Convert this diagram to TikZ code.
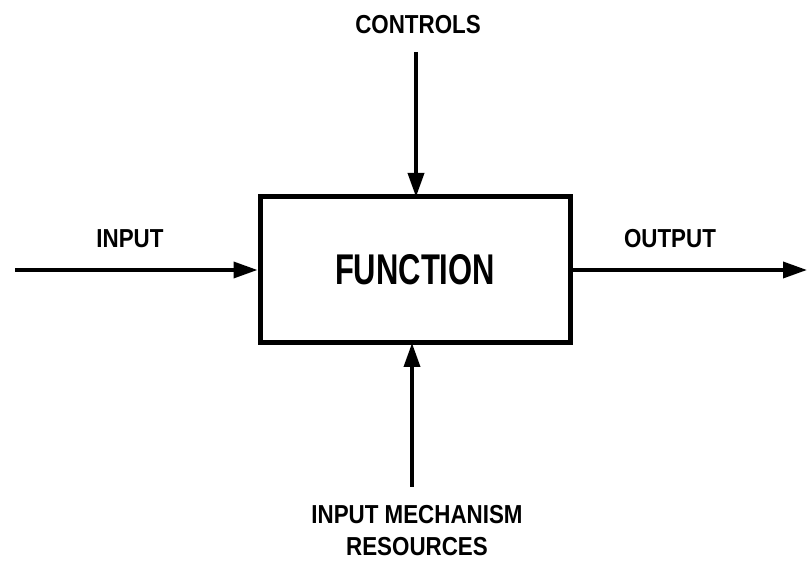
\documentclass[tikz,border=0pt]{standalone}
\usepackage{fontspec}
\setmainfont{Liberation Sans}
\newfontfamily\labfont[FakeStretch=0.86]{Liberation Sans Bold}
\newfontfamily\funcfont[FakeStretch=0.72]{Liberation Sans Bold}
\usetikzlibrary{arrows.meta}
\begin{document}
\begin{tikzpicture}[x=1pt,y=1pt,
  lab/.style={font=\labfont\fontsize{26}{30}\selectfont, inner sep=0pt, anchor=base},
  flow/.style={line width=3.6pt, -{Triangle[length=24pt,width=16pt]}},
  funcbox/.style={draw, line width=5pt, minimum width=310pt, minimum height=146pt, font=\funcfont\fontsize{43}{46}\selectfont}]
\useasboundingbox (0,0) rectangle (807,564);
\node[funcbox] (f) at (415,294) {FUNCTION};
\coordinate (inS) at (15,294);
\coordinate (outE) at (807,294);
\coordinate (ctlS) at (416,512);
\coordinate (ctlE) at (416,367);
\coordinate (mechS) at (412,77);
\coordinate (mechE) at (412,221);
\draw[flow] (inS) -- (f.west);
\draw[flow] (f.east) -- (outE);
\draw[flow] (ctlS) -- (ctlE);
\draw[flow] (mechS) -- (mechE);
\node[lab] (ctl) at (418,530) {CONTROLS};
\node[lab] (inl) at (130,316) {INPUT};
\node[lab] (outl) at (670,316) {OUTPUT};
\node[lab] (mech) at (417,40) {INPUT MECHANISM};
\node[lab] (res) at (417,8) {RESOURCES};
\end{tikzpicture}
\end{document}
